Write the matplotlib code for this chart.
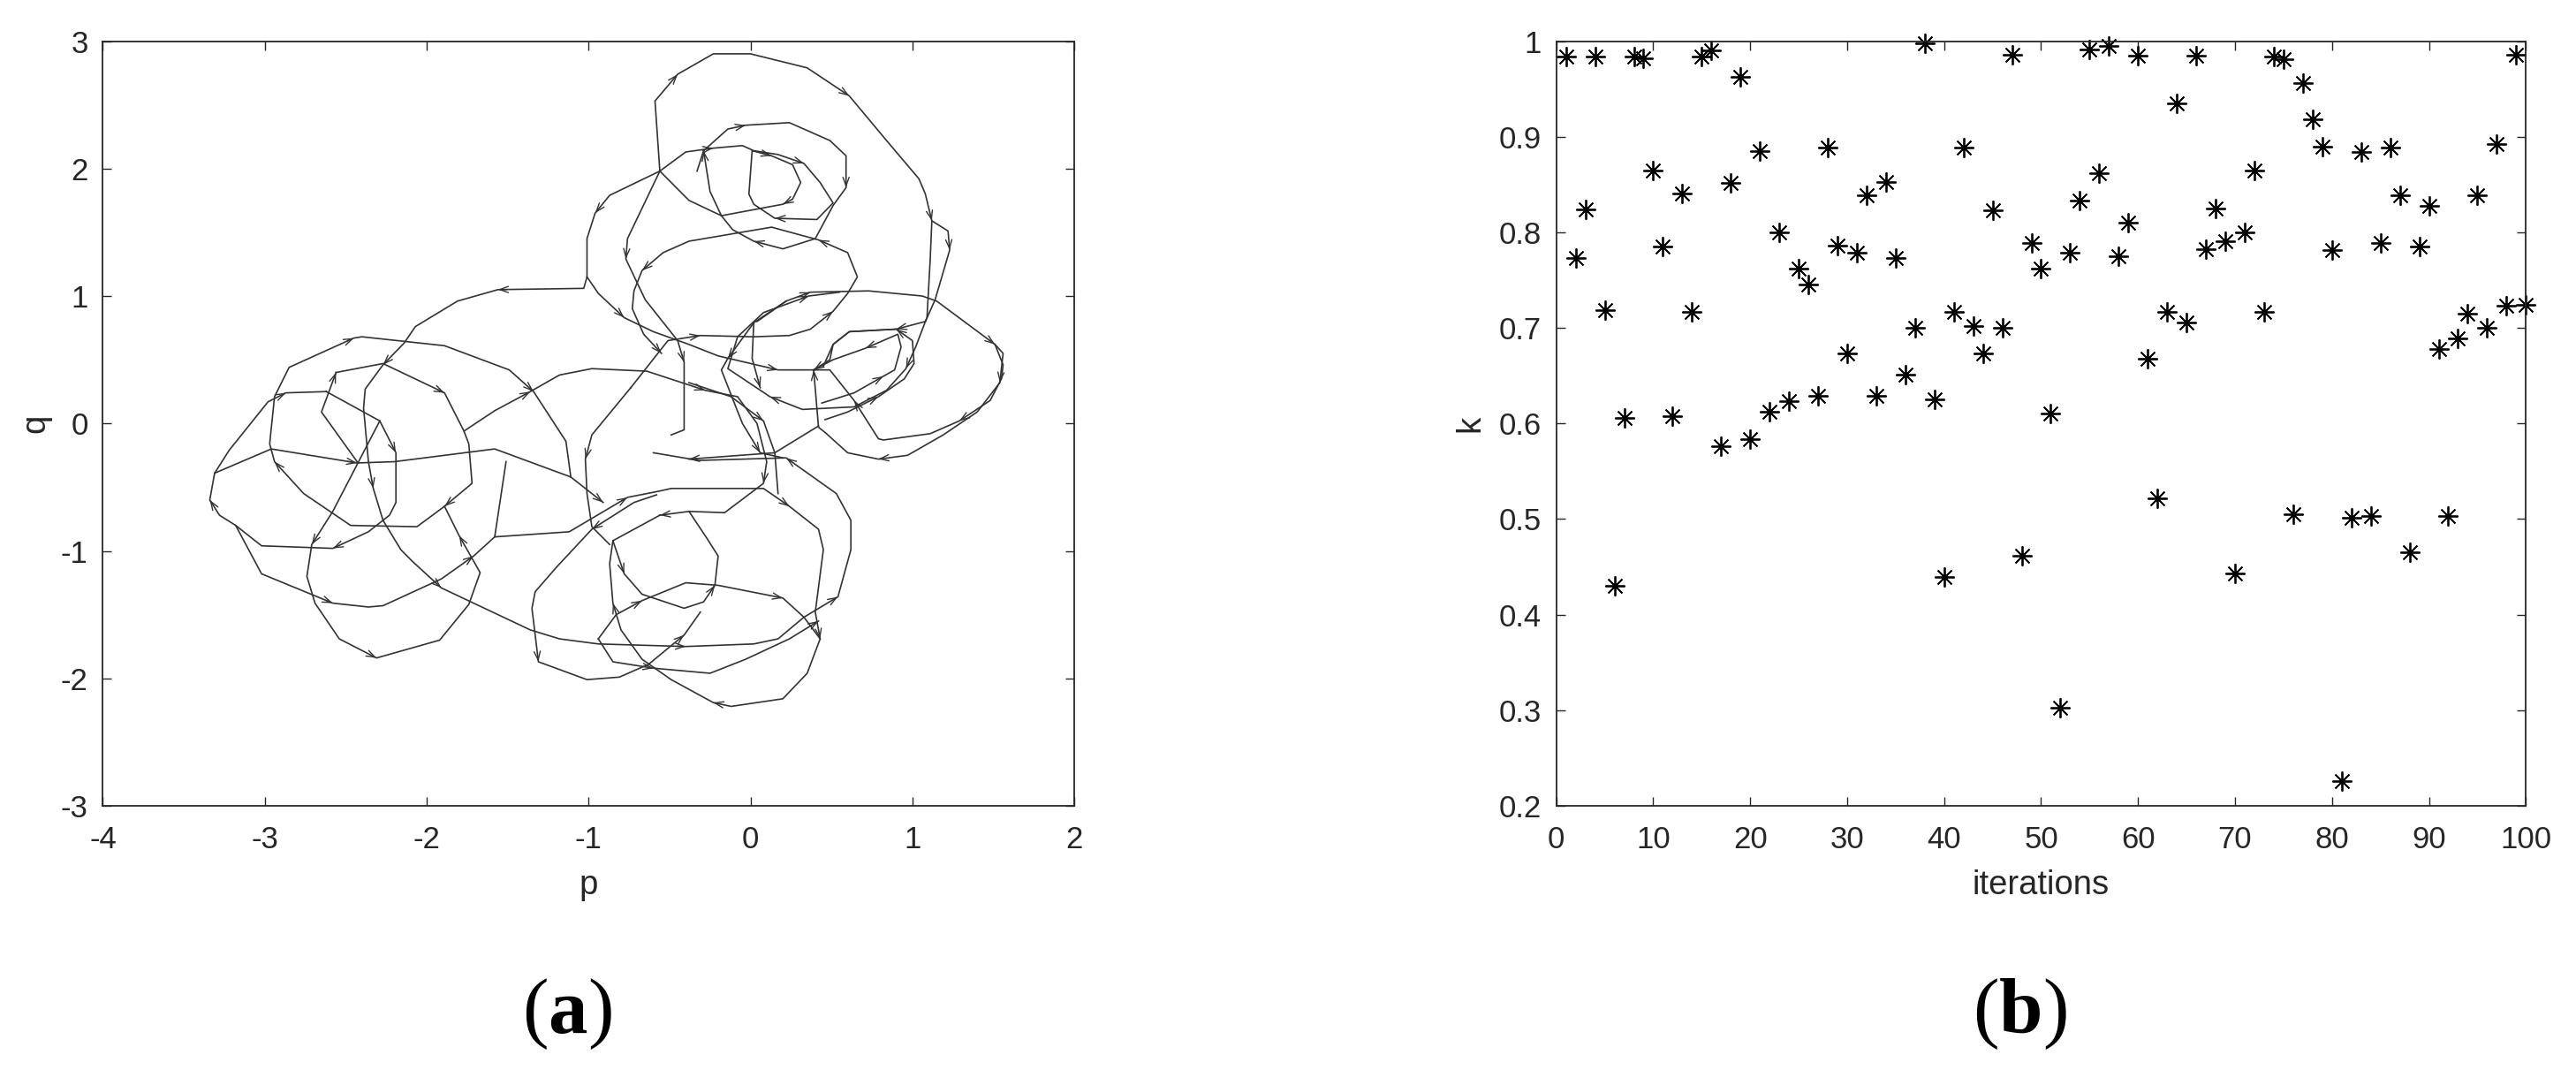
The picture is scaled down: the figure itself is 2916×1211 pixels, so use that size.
import numpy as np
import matplotlib.pyplot as plt

plt.rcParams['font.family'] = ['Liberation Sans', 'DejaVu Sans']
plt.rcParams['axes.unicode_minus'] = False
plt.rcParams['mathtext.fontset'] = 'custom'
plt.rcParams['mathtext.rm'] = 'Liberation Serif'
plt.rcParams['mathtext.bf'] = 'Liberation Serif:bold'

# ---- (a) trajectory in the p-q plane, traced as polylines (p, q) ----
seg_top_outer = [(-0.56, 1.98), (-0.59, 2.53), (-0.45, 2.74), (-0.23, 2.90), (0.00, 2.90),
                 (0.35, 2.79), (0.61, 2.57), (0.84, 2.22), (1.04, 1.92), (1.08, 1.80),
                 (1.12, 1.59), (1.11, 1.29), (1.09, 0.83), (1.08, 0.80), (0.90, 0.74),
                 (0.61, 0.72), (0.51, 0.62), (0.49, 0.50), (0.39, 0.42)]
seg_top_outer_b = [(1.12, 1.59), (1.22, 1.51), (1.23, 1.36), (1.14, 0.97), (1.08, 0.80)]
seg_top_mid = [(-0.29, 2.14), (-0.14, 2.31), (-0.03, 2.34), (0.24, 2.36), (0.49, 2.22),
               (0.59, 2.10), (0.59, 1.85), (0.51, 1.71), (0.40, 1.45), (0.20, 1.37),
               (0.02, 1.43), (-0.11, 1.52), (-0.18, 1.63), (-0.25, 1.82), (-0.29, 2.14),
               (-0.33, 1.98)]
seg_top_inner = [(-0.56, 1.98), (-0.40, 2.13), (-0.23, 2.16), (-0.05, 2.18), (0.02, 2.14),
                 (0.17, 2.11), (0.33, 2.04), (0.43, 1.89), (0.51, 1.73), (0.41, 1.60),
                 (0.15, 1.61), (0.02, 1.72), (-0.01, 1.80), (0.01, 2.14), (0.13, 2.10),
                 (0.26, 2.03), (0.31, 1.89), (0.26, 1.76), (0.20, 1.72), (-0.18, 1.63),
                 (-0.38, 1.75), (-0.56, 1.98)]
seg_left_top = [(-0.56, 1.98), (-0.87, 1.79), (-0.96, 1.65), (-1.01, 1.45), (-1.01, 1.15),
                (-1.03, 1.06), (-1.56, 1.05), (-1.81, 0.96), (-2.07, 0.76), (-2.14, 0.63),
                (-2.27, 0.46), (-2.38, 0.27), (-2.39, 0.12), (-2.36, -0.30), (-2.33, -0.51),
                (-2.27, -0.76), (-2.16, -0.99), (-2.09, -1.08), (-1.91, -1.29), (-1.36, -1.62),
                (-1.18, -1.69), (-0.94, -1.73), (-0.40, -1.75), (0.02, -1.73), (0.17, -1.69),
                (0.33, -1.52), (0.54, -1.36), (0.62, -0.99), (0.62, -0.76), (0.53, -0.55),
                (0.22, -0.27), (-0.32, -0.29), (-0.60, -0.23)]
seg_branch = [(-1.01, 1.15), (-0.94, 1.02), (-0.78, 0.83), (-0.60, 0.72), (-0.38, 0.62),
              (-0.20, 0.53), (0.17, 0.42), (0.40, 0.42)]
seg_left_mid = [(-0.56, 1.98), (-0.76, 1.45), (-0.77, 1.29), (-0.71, 1.13), (-0.65, 0.97),
                (-0.45, 0.65), (-0.41, 0.48), (-0.41, 0.28), (-0.41, -0.05), (-0.49, -0.09)]
seg_bean = [(-0.74, 0.28), (-0.51, 0.65), (-0.31, 0.69), (0.02, 0.68), (0.24, 0.69),
            (0.37, 0.74), (0.51, 0.88), (0.60, 1.02), (0.66, 1.15), (0.60, 1.34),
            (0.42, 1.44), (0.13, 1.54), (-0.38, 1.43), (-0.54, 1.34), (-0.67, 1.20),
            (-0.72, 1.04), (-0.73, 0.90), (-0.66, 0.70), (-0.55, 0.55)]
seg_mid_arc = [(-0.74, 0.28), (-0.98, -0.09), (-1.02, -0.28), (-1.01, -0.55), (-0.98, -0.81),
               (-0.87, -0.95)]
seg_cross = [(-1.77, -0.06), (-1.58, 0.10), (-1.36, 0.25), (-1.18, 0.38), (-0.98, 0.43),
             (-0.64, 0.41), (-0.28, 0.26), (-0.08, 0.21), (0.04, 0.00), (0.10, -0.30),
             (0.08, -0.47), (-0.16, -0.70), (-0.38, -0.69)]
seg_right_lobe = [(0.04, 0.80), (0.22, 0.96), (0.37, 1.03), (0.73, 1.04), (1.06, 1.00),
                  (1.15, 0.96), (1.51, 0.62), (1.56, 0.46), (1.55, 0.35), (1.48, 0.18),
                  (1.29, 0.02), (1.11, -0.08), (0.82, -0.13), (0.79, -0.12), (0.64, 0.18),
                  (0.49, 0.42), (0.40, 0.42)]
seg_right_lower = [(1.51, 0.62), (1.56, 0.55), (1.54, 0.32), (1.40, 0.09), (1.19, -0.09),
                   (0.97, -0.25), (0.79, -0.28), (0.60, -0.23), (0.46, -0.07), (0.42, -0.03),
                   (0.39, 0.42)]
seg_right_in1 = [(1.08, 0.80), (1.02, 0.60), (0.96, 0.43), (0.84, 0.26), (0.64, 0.13),
                 (0.32, 0.11), (0.12, 0.21), (-0.14, 0.43), (-0.08, 0.68), (0.08, 0.87),
                 (0.36, 1.00), (0.55, 1.03)]
seg_right_in2 = [(0.46, 0.03), (0.60, 0.09), (0.79, 0.21), (0.95, 0.35), (1.01, 0.47),
                 (1.00, 0.65), (0.90, 0.74), (0.61, 0.72), (0.51, 0.62), (0.45, 0.45)]
seg_right_in3 = [(0.44, 0.16), (0.64, 0.24), (0.82, 0.37), (0.89, 0.42), (0.93, 0.60),
                 (0.91, 0.70), (0.71, 0.59), (0.51, 0.50), (0.39, 0.42)]
seg_right_left = [(0.22, 0.96), (0.02, 0.79), (-0.14, 0.51), (-0.18, 0.42), (-0.10, 0.16),
                  (-0.05, 0.00), (0.06, -0.23), (0.20, -0.27)]
seg_center_a = [(0.02, 0.79), (0.01, 0.51), (0.06, 0.28)]
seg_center_b = [(-0.38, 0.32), (-0.12, 0.21), (0.08, 0.02), (0.15, -0.23), (0.17, -0.55)]
seg_center_c = [(0.42, -0.02), (0.15, -0.23), (-0.38, -0.28)]
seg_left_1 = [(-2.62, 0.25), (-2.29, 0.02), (-2.19, -0.23), (-2.19, -0.62), (-2.23, -0.72),
              (-2.36, -0.85), (-2.58, -0.98), (-3.02, -0.96), (-3.18, -0.80), (-3.28, -0.72),
              (-3.34, -0.60), (-3.31, -0.39), (-3.22, -0.21), (-2.98, 0.17), (-2.87, 0.24),
              (-2.62, 0.25)]
seg_left_line = [(-3.31, -0.39), (-2.96, -0.20), (-2.43, -0.31), (-2.20, -0.30), (-1.58, -0.20),
                 (-1.11, -0.42), (-0.91, -0.62)]
seg_left_2 = [(-2.56, 0.40), (-2.27, 0.47), (-1.89, 0.24), (-1.77, -0.06), (-1.74, -0.16),
              (-1.72, -0.47), (-1.89, -0.65), (-2.06, -0.81), (-2.47, -0.80), (-2.76, -0.55),
              (-2.94, -0.30), (-2.97, -0.16), (-2.94, 0.21), (-2.85, 0.44), (-2.45, 0.67),
              (-2.40, 0.68), (-1.89, 0.61), (-1.49, 0.42), (-1.34, 0.25), (-1.14, -0.14),
              (-1.11, -0.42)]
seg_left_3 = [(-2.43, -0.30), (-2.65, 0.09), (-2.56, 0.40)]
seg_left_low = [(-2.29, 0.02), (-2.58, -0.69), (-2.71, -0.95), (-2.74, -1.20), (-2.69, -1.41),
                (-2.54, -1.69), (-2.31, -1.84), (-1.92, -1.70), (-1.74, -1.42), (-1.67, -1.17),
                (-1.80, -0.88), (-1.89, -0.65)]
seg_left_4 = [(-3.18, -0.80), (-3.02, -1.18), (-2.58, -1.41), (-2.36, -1.44), (-2.27, -1.43),
              (-1.91, -1.22), (-1.71, -1.04), (-1.58, -0.89), (-1.51, -0.30)]
seg_bottom_d = [(-1.58, -0.89), (-1.12, -0.85), (-0.76, -0.58), (-0.56, -0.53), (-0.49, -0.51),
                (0.08, -0.51), (0.24, -0.65), (0.42, -0.83), (0.45, -0.99), (0.40, -1.48),
                (0.43, -1.69), (0.35, -1.96), (0.20, -2.16), (-0.12, -2.22), (-0.23, -2.19),
                (-0.49, -2.01), (-0.67, -1.85), (-0.80, -1.62), (-0.85, -1.41), (-0.87, -1.10),
                (-0.85, -0.92)]
seg_bottom_e = [(-0.58, -0.56), (-0.72, -0.62), (-0.98, -0.83), (-1.20, -1.13), (-1.33, -1.32),
                (-1.35, -1.45), (-1.31, -1.87), (-1.01, -2.01), (-0.81, -1.99), (-0.63, -1.89),
                (-0.41, -1.66), (-0.31, -1.48)]
seg_bottom_b = [(-0.56, -0.72), (-0.85, -0.92), (-0.78, -1.18), (-0.67, -1.34), (-0.41, -1.45),
                (-0.29, -1.40), (-0.22, -1.27), (-0.20, -1.04), (-0.27, -0.90), (-0.38, -0.69),
                (-0.56, -0.72)]
seg_bottom_f = [(-0.94, -1.69), (-0.83, -1.50), (-0.67, -1.39), (-0.40, -1.25), (-0.20, -1.27),
                (0.00, -1.32), (0.20, -1.37), (0.33, -1.52), (0.43, -1.69)]
seg_bottom_g = [(-0.94, -1.69), (-0.85, -1.87), (-0.60, -1.92), (-0.25, -1.96), (-0.03, -1.85),
                (0.24, -1.69), (0.42, -1.55)]

segments = [seg_top_outer, seg_top_outer_b, seg_top_mid, seg_top_inner, seg_left_top,
            seg_branch, seg_left_mid, seg_bean, seg_mid_arc, seg_cross, seg_right_lobe,
            seg_right_lower, seg_right_in1, seg_right_in2, seg_right_in3, seg_right_left,
            seg_center_a, seg_center_b, seg_center_c, seg_left_1, seg_left_line, seg_left_2,
            seg_left_3, seg_left_low, seg_left_4, seg_bottom_d, seg_bottom_e, seg_bottom_b,
            seg_bottom_f, seg_bottom_g]

# ---- (b) k for each iteration ----
iterations = np.arange(1, 101)
k_values = [0.984, 0.773, 0.824, 0.984, 0.719, 0.430, 0.606, 0.984, 0.982, 0.865,
            0.785, 0.608, 0.841, 0.717, 0.984, 0.990, 0.576, 0.852, 0.963, 0.584,
            0.885, 0.612, 0.800, 0.623, 0.762, 0.745, 0.629, 0.889, 0.786, 0.673,
            0.779, 0.839, 0.629, 0.853, 0.773, 0.651, 0.700, 0.998, 0.625, 0.439,
            0.717, 0.889, 0.702, 0.673, 0.823, 0.700, 0.986, 0.462, 0.789, 0.762,
            0.610, 0.303, 0.779, 0.833, 0.991, 0.862, 0.995, 0.775, 0.810, 0.985,
            0.668, 0.522, 0.717, 0.935, 0.706, 0.985, 0.782, 0.825, 0.791, 0.443,
            0.800, 0.865, 0.717, 0.984, 0.981, 0.505, 0.956, 0.918, 0.890, 0.781,
            0.226, 0.501, 0.884, 0.503, 0.789, 0.889, 0.839, 0.465, 0.785, 0.828,
            0.678, 0.503, 0.689, 0.715, 0.839, 0.700, 0.892, 0.723, 0.986, 0.724]

p_ticks = [-4, -3, -2, -1, 0, 1, 2]
q_ticks = [-3, -2, -1, 0, 1, 2, 3]
it_ticks = [0, 10, 20, 30, 40, 50, 60, 70, 80, 90, 100]
k_ticks = [0.2, 0.3, 0.4, 0.5, 0.6, 0.7, 0.8, 0.9, 1.0]
k_tick_labels = ['0.2', '0.3', '0.4', '0.5', '0.6', '0.7', '0.8', '0.9', '1']

AX_COL = '#262626'
LINE_COL = '#333333'


def style_axes(ax):
    for s in ax.spines.values():
        s.set_color(AX_COL)
        s.set_linewidth(1.3)
    ax.tick_params(direction='in', length=7, width=1.0, top=True, right=True,
                   labelsize=25, colors=AX_COL)
    ax.tick_params(axis='x', pad=16)
    ax.tick_params(axis='y', pad=12)


fig = plt.figure(figsize=(29.16, 12.11), dpi=100)

# left panel
ax1 = fig.add_axes([0.03995, 0.2469, 0.3771, 0.7147])
for seg in segments:
    p, q = zip(*seg)
    ax1.plot(p, q, color=LINE_COL, lw=1.2)
    # small arrowheads along the path
    for i in range(2, len(seg), 4):
        x0, y0 = seg[i - 1]
        x1, y1 = seg[i]
        ax1.annotate('', xy=(x1, y1), xytext=(x0 + 0.9 * (x1 - x0), y0 + 0.9 * (y1 - y0)),
                     arrowprops=dict(arrowstyle='->,head_length=0.5,head_width=0.18',
                                     color=LINE_COL, lw=1.0, shrinkA=0, shrinkB=0,
                                     mutation_scale=14))
ax1.set_xlim(-4, 2)
ax1.set_ylim(-3, 3)
ax1.set_xticks(p_ticks)
ax1.set_yticks(q_ticks)
style_axes(ax1)
ax1.set_xlabel('p', fontsize=27.5, color=AX_COL)
ax1.set_ylabel('q', fontsize=27.5, color=AX_COL)
ax1.xaxis.set_label_coords(0.5, -0.083)
ax1.yaxis.set_label_coords(-0.053, 0.5)

# right panel
ax2 = fig.add_axes([0.60415, 0.2469, 0.3764, 0.7147])
ax2.plot(iterations, k_values, linestyle='none', marker=(8, 2, 0), ms=16, mew=1.3,
         color='black', clip_on=False)
ax2.set_xlim(0, 100)
ax2.set_ylim(0.2, 1)
ax2.set_xticks(it_ticks)
ax2.set_yticks(k_ticks)
ax2.set_yticklabels(k_tick_labels)
style_axes(ax2)
ax2.set_xlabel('iterations', fontsize=27.5, color=AX_COL)
ax2.set_ylabel('k', fontsize=27.5, color=AX_COL)
ax2.xaxis.set_label_coords(0.5, -0.083)
ax2.yaxis.set_label_coords(-0.072, 0.5)

fig.text(641.7 / 2916, 0.0524, r'$(\mathbf{a})$', fontsize=64, ha='center', va='center')
fig.text(2286 / 2916, 0.0524, r'$(\mathbf{b})$', fontsize=64, ha='center', va='center')

fig.savefig('out.png', dpi=100)
